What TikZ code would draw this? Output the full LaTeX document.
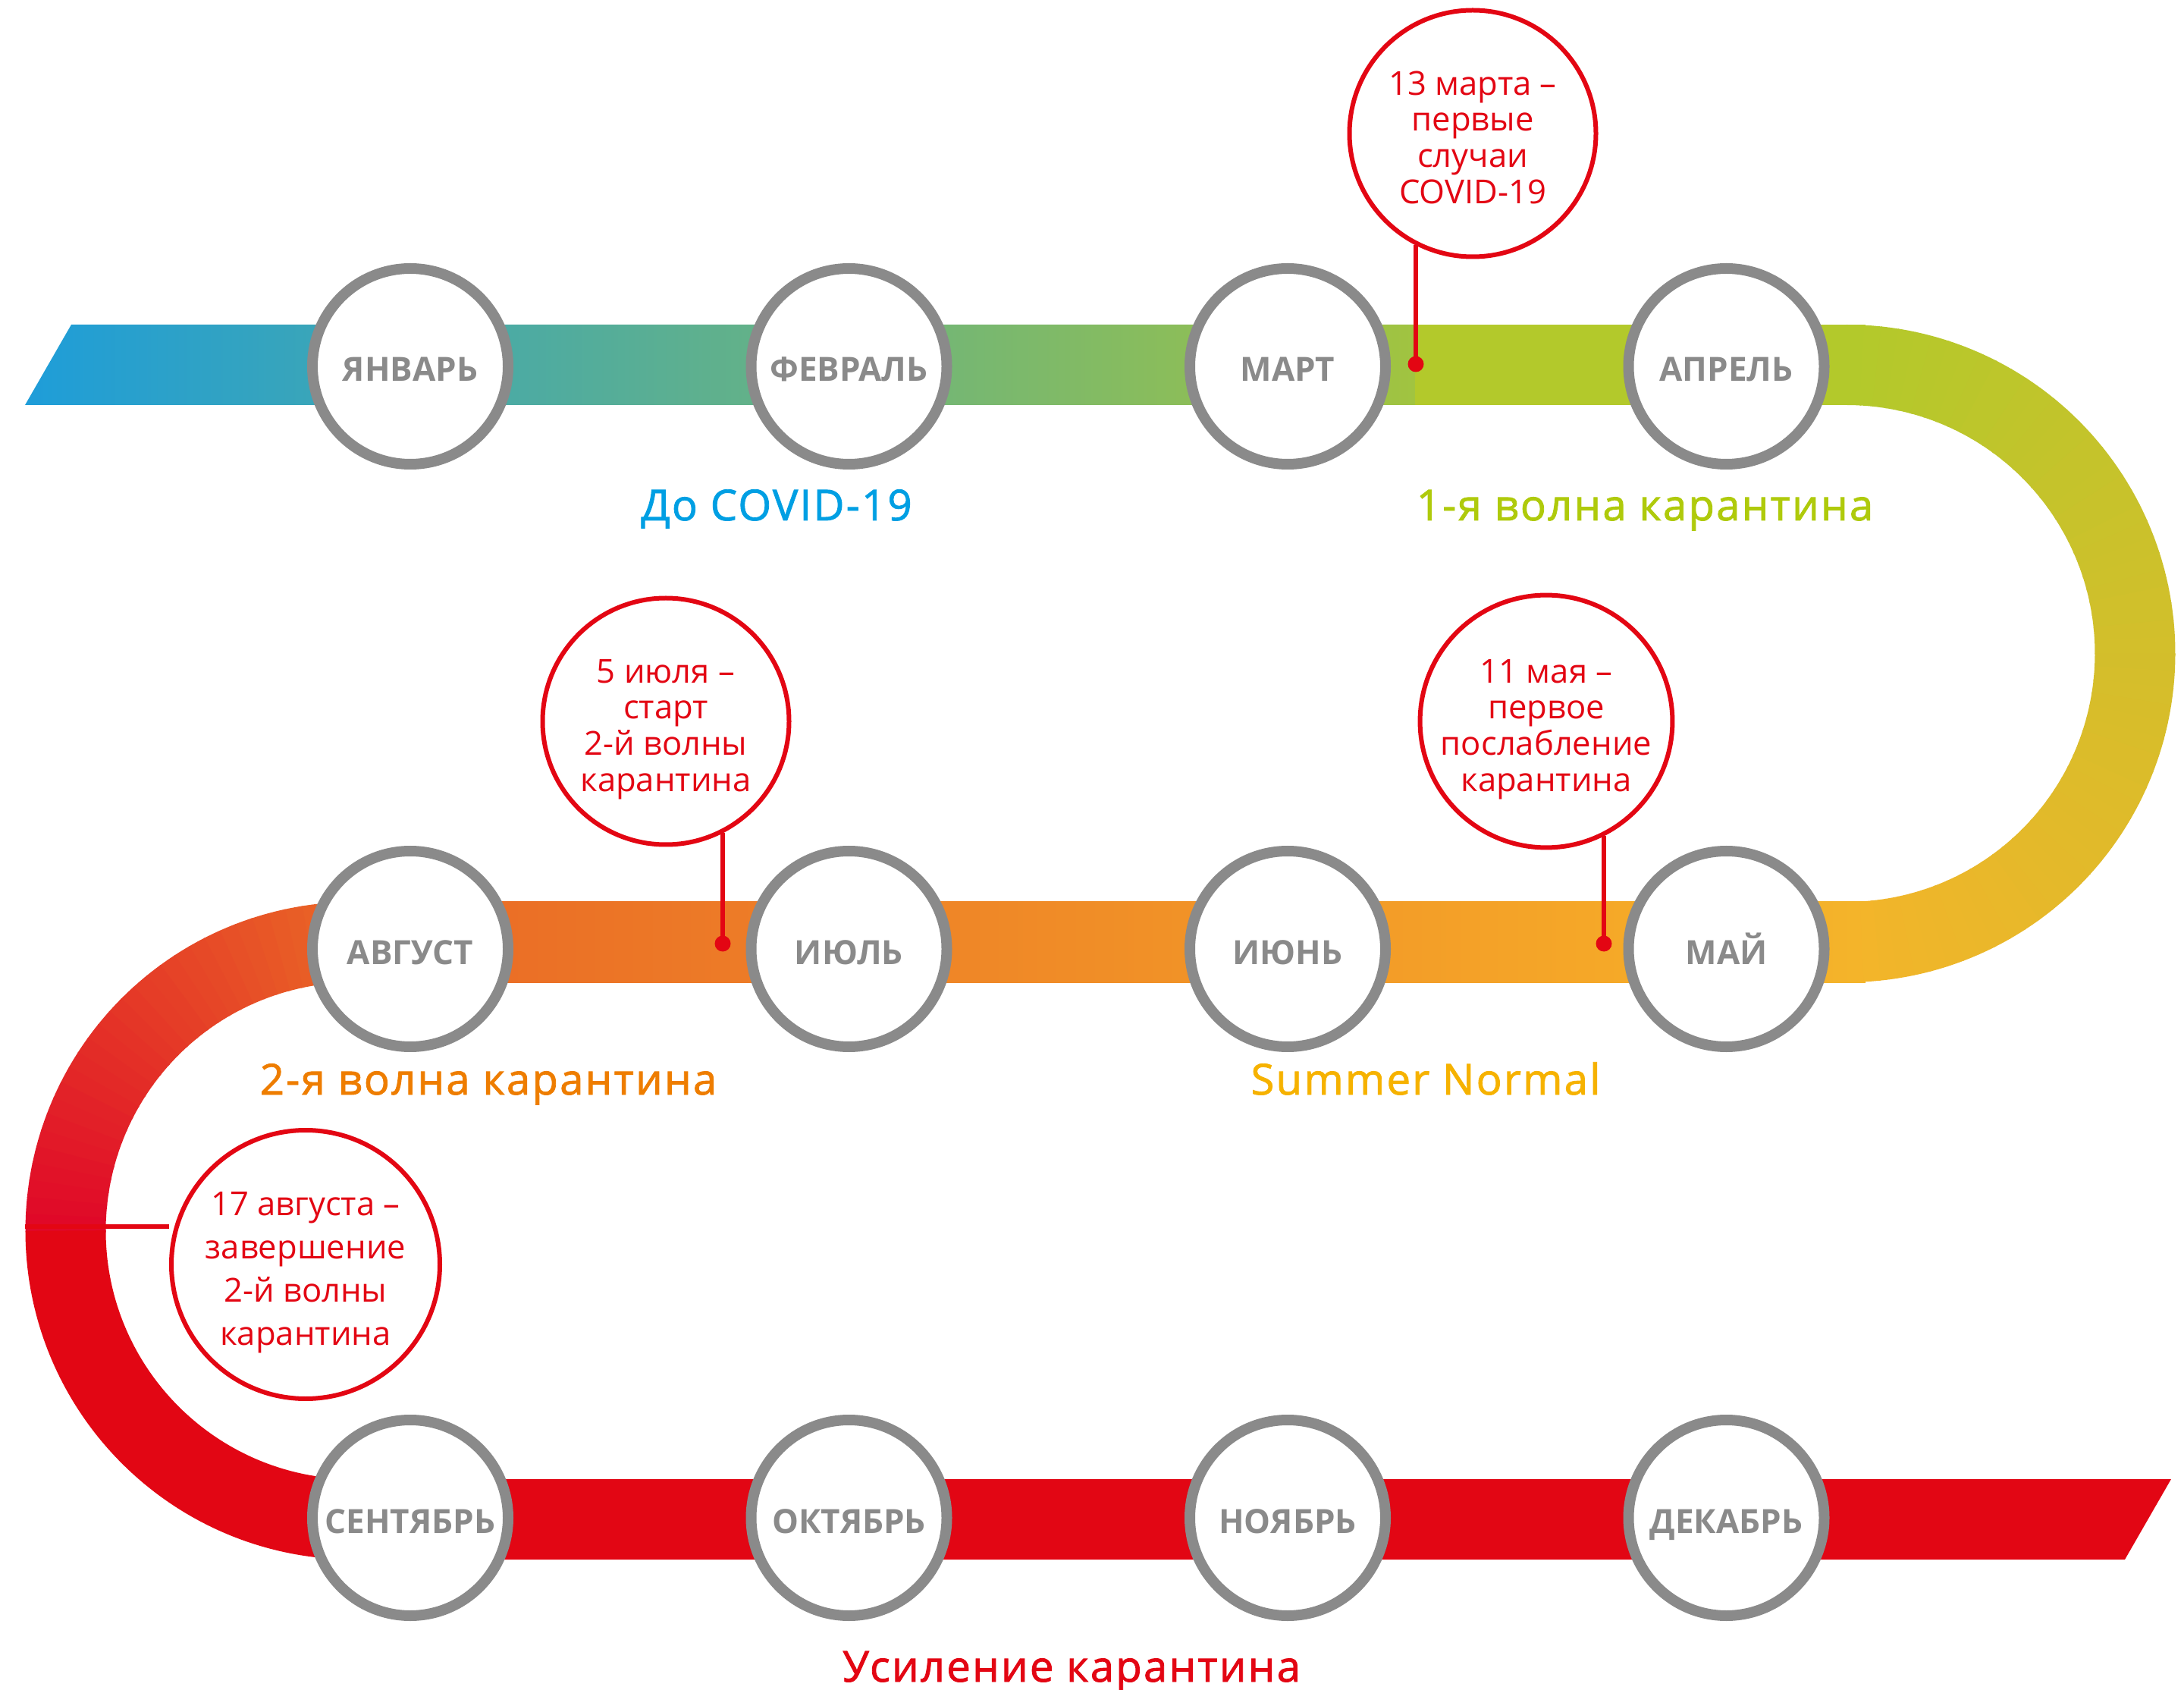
\documentclass[tikz,border=0pt]{standalone}
\usepackage{fontspec}
\setmainfont{Open Sans}
\newfontfamily\headfont[LetterSpace=4,FakeBold=1.5]{Open Sans}
\usetikzlibrary{calc}
\definecolor{bandblue}{RGB}{30,157,217}
\definecolor{bandgreen}{RGB}{179,201,43}
\definecolor{bandyellow}{RGB}{244,180,42}
\definecolor{bandamber}{RGB}{245,168,40}
\definecolor{bandorange}{RGB}{233,102,38}
\definecolor{bandcrimson}{RGB}{224,8,40}
\definecolor{bandred}{RGB}{226,6,20}
\definecolor{monthgray}{RGB}{138,138,138}
\definecolor{txtblue}{RGB}{0,159,227}
\definecolor{txtgreen}{RGB}{175,202,11}
\definecolor{txtorange}{RGB}{238,125,0}
\definecolor{txtyellow}{RGB}{246,178,0}
\definecolor{evred}{RGB}{227,6,19}

\begin{document}
\begin{tikzpicture}[
    month/.style={circle, draw=monthgray, line width=0.14cm, fill=white, minimum size=2.58cm,
                  inner sep=0pt, text height=0.40cm, text depth=0pt, text=monthgray,
                  font=\fontsize{12.5}{14}\selectfont\bfseries},
    callout/.style={circle, draw=evred, line width=0.06cm, fill=white, minimum size=3.25cm,
                    inner sep=0pt, align=center, text=evred, text height=1.85cm, text depth=0pt,
                    font=\fontsize{12.4}{13.6}\selectfont},
    evdot/.style={circle, fill=evred, minimum size=0.21cm, inner sep=0pt},
    lead/.style={evred, line width=0.055cm},
    phase/.style={anchor=base, inner sep=0pt, font=\headfont\fontsize{16}{18}\selectfont},
    band/.style={line width=1.06cm}]
    \useasboundingbox (0,0) rectangle (28.8,22.27);

    % ribbon
    \shade[left color=bandblue, right color=bandgreen!88!bandblue]
        (0.33,16.93) -- (0.94,17.99) -- (18.67,17.99) -- (18.67,16.93) -- cycle;
    \fill[bandgreen] (18.66,16.93) rectangle (24.6,17.99);
    \shade[left color=bandorange, right color=bandamber] (4.42,9.32) rectangle (21.15,10.38);
    \shade[left color=bandamber, right color=bandyellow] (21.14,9.32) rectangle (24.6,10.38);
    \fill[bandred] (4.45,1.71) -- (4.45,2.77) -- (28.63,2.77) -- (28.02,1.71) -- cycle;
    \foreach \i in {0,...,59}{
        \pgfmathtruncatemacro\p{100*\i/59}
        \pgfmathsetmacro\e{max(87-3*\i-0.3,-90)}
        \colorlet{segc}{bandyellow!\p!bandgreen}
        \draw[band, segc] ($(24.35,13.655)+(90-3*\i:3.805)$)
            arc[start angle=90-3*\i, end angle=\e, radius=3.805];
    }
    \foreach \i in {0,...,29}{
        \pgfmathtruncatemacro\p{100*\i/29}
        \colorlet{segc}{bandcrimson!\p!bandorange}
        \draw[band, segc] ($(4.67,6.045)+(90+3*\i:3.805)$)
            arc[start angle=90+3*\i, end angle=90+3*\i+3.3, radius=3.805];
    }
    \draw[band, bandred] ($(4.67,6.045)+(180:3.805)$) arc[start angle=180, end angle=270, radius=3.805];

    % months
    \foreach \n/\x/\y/\t in {jan/5.41/17.44/ЯНВАРЬ, feb/11.195/17.44/ФЕВРАЛЬ, mar/16.98/17.44/МАРТ,
                            apr/22.765/17.44/АПРЕЛЬ, may/22.765/9.76/МАЙ, jun/16.98/9.76/ИЮНЬ,
                            jul/11.195/9.76/ИЮЛЬ, aug/5.41/9.76/АВГУСТ, sep/5.41/2.26/СЕНТЯБРЬ,
                            oct/11.195/2.26/ОКТЯБРЬ, nov/16.98/2.26/НОЯБРЬ, dec/22.765/2.26/ДЕКАБРЬ}
        \node[month] (\n) at (\x,\y) {\t};

    % events
    \node[callout] (callMar) at (19.42,20.51) {13 марта –\\первые\\случаи\\COVID-19};
    \node[callout] (callMay) at (20.39,12.76) {11 мая –\\первое\\послабление\\карантина};
    \node[callout] (callJul) at (8.78,12.76) {5 июля –\\старт\\2-й волны\\карантина};
    \node[callout, minimum size=3.54cm, text height=2.13cm, font=\fontsize{12.4}{16.2}\selectfont]
                   (callAug) at (4.03,5.60) {17 августа –\\завершение\\2-й волны\\карантина};
    \node[evdot] (dotMar) at (18.67,17.47) {};
    \node[evdot] (dotMay) at (21.15,9.83) {};
    \node[evdot] (dotJul) at (9.53,9.83) {};
    \coordinate (edgeAug) at (0.33,6.10);
    \draw[lead] (dotMar.center) -- (dotMar |- callMar.243);
    \draw[lead] (dotMay.center) -- (dotMay |- callMay.297);
    \draw[lead] (dotJul.center) -- (dotJul |- callJul.297);
    \draw[lead] (edgeAug) -- (callAug.west |- edgeAug);

    % phases
    \node[phase, text=txtblue]   (prePhase)    at (10.24,15.41) {До COVID-19};
    \node[phase, text=txtgreen]  (firstPhase)  at (21.69,15.41) {1-я волна карантина};
    \node[phase, text=txtorange] (secondPhase) at (6.44,7.84)   {2-я волна карантина};
    \node[phase, text=txtyellow] (summerPhase) at (18.80,7.84)  {Summer Normal};
    \node[phase, text=evred]     (strictPhase) at (14.13,0.10)  {Усиление карантина};
\end{tikzpicture}
\end{document}
